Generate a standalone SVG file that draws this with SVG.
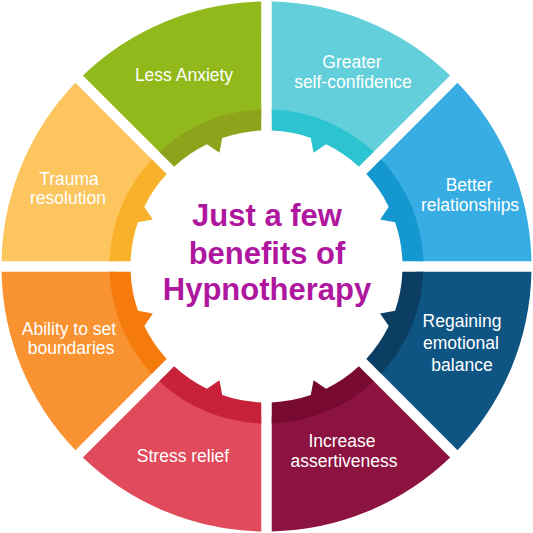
<svg xmlns="http://www.w3.org/2000/svg" width="533" height="533" viewBox="0 0 533 533">
  <style>
    .lbl { font-family: "Liberation Sans", Arial, sans-serif; font-size: 17.5px; fill: #ffffff; text-anchor: middle; }
    .title { font-family: "Liberation Sans", Arial, sans-serif; font-size: 31px; font-weight: bold; fill: #B0179F; text-anchor: middle; }
  </style>
  <defs>
    <!-- one 45-degree segment (0..45 deg), centred at origin -->
    <path id="segLight" d="M264.948 5.249 A265 265 0 0 1 191.058 183.634 L109.714 102.288 A150 150 0 0 0 149.908 5.251 Z"/>
    <path id="segDark" d="M156.912 5.25 A157 157 0 0 1 114.666 107.242 L99.807 92.383 A136 136 0 0 0 122.236 59.618 L113.637 47.070 L128.591 44.277 A136 136 0 0 0 135.899 5.25 Z"/>
  </defs>
  <rect width="533" height="533" fill="#ffffff"/>

  <g id="node-regaining">
    <g transform="translate(266.5 266.5) rotate(0)">
      <use href="#segLight" fill="#0E5584"/>
      <use href="#segDark" fill="#0B3E62"/>
    </g>
    <text class="lbl"><tspan x="462" y="327">Regaining</tspan><tspan x="461" y="349">emotional</tspan><tspan x="462" y="371">balance</tspan></text>
  </g>

  <g id="node-assertiveness">
    <g transform="translate(266.5 266.5) rotate(45)">
      <use href="#segLight" fill="#8C1240"/>
      <use href="#segDark" fill="#780A31"/>
    </g>
    <text class="lbl"><tspan x="342" y="447">Increase</tspan><tspan x="344" y="467">assertiveness</tspan></text>
  </g>

  <g id="node-stress">
    <g transform="translate(266.5 266.5) rotate(90)">
      <use href="#segLight" fill="#E04A5B"/>
      <use href="#segDark" fill="#C8213A"/>
    </g>
    <text class="lbl" x="183" y="462">Stress relief</text>
  </g>

  <g id="node-boundaries">
    <g transform="translate(266.5 266.5) rotate(135)">
      <use href="#segLight" fill="#F99230"/>
      <use href="#segDark" fill="#F57B0D"/>
    </g>
    <text class="lbl"><tspan x="69" y="335">Ability to set</tspan><tspan x="71" y="354">boundaries</tspan></text>
  </g>

  <g id="node-trauma">
    <g transform="translate(266.5 266.5) rotate(180)">
      <use href="#segLight" fill="#FDC55E"/>
      <use href="#segDark" fill="#F9B12C"/>
    </g>
    <text class="lbl"><tspan x="69" y="185">Trauma</tspan><tspan x="68" y="204">resolution</tspan></text>
  </g>

  <g id="node-anxiety">
    <g transform="translate(266.5 266.5) rotate(225)">
      <use href="#segLight" fill="#92B91B"/>
      <use href="#segDark" fill="#8EA21C"/>
    </g>
    <text class="lbl" x="184" y="81">Less Anxiety</text>
  </g>

  <g id="node-confidence">
    <g transform="translate(266.5 266.5) rotate(270)">
      <use href="#segLight" fill="#63CFDA"/>
      <use href="#segDark" fill="#2CC4D1"/>
    </g>
    <text class="lbl"><tspan x="352" y="68">Greater</tspan><tspan x="353" y="88">self-confidence</tspan></text>
  </g>

  <g id="node-relationships">
    <g transform="translate(266.5 266.5) rotate(315)">
      <use href="#segLight" fill="#37ADE3"/>
      <use href="#segDark" fill="#1597CF"/>
    </g>
    <text class="lbl"><tspan x="469" y="191">Better</tspan><tspan x="470" y="211">relationships</tspan></text>
  </g>

  <g id="node-center">
    <text class="title"><tspan x="267" y="226">Just a few</tspan><tspan x="267" y="263.5">benefits of</tspan><tspan x="267" y="300">Hypnotherapy</tspan></text>
  </g>

  <g id="connectors"/>
</svg>
